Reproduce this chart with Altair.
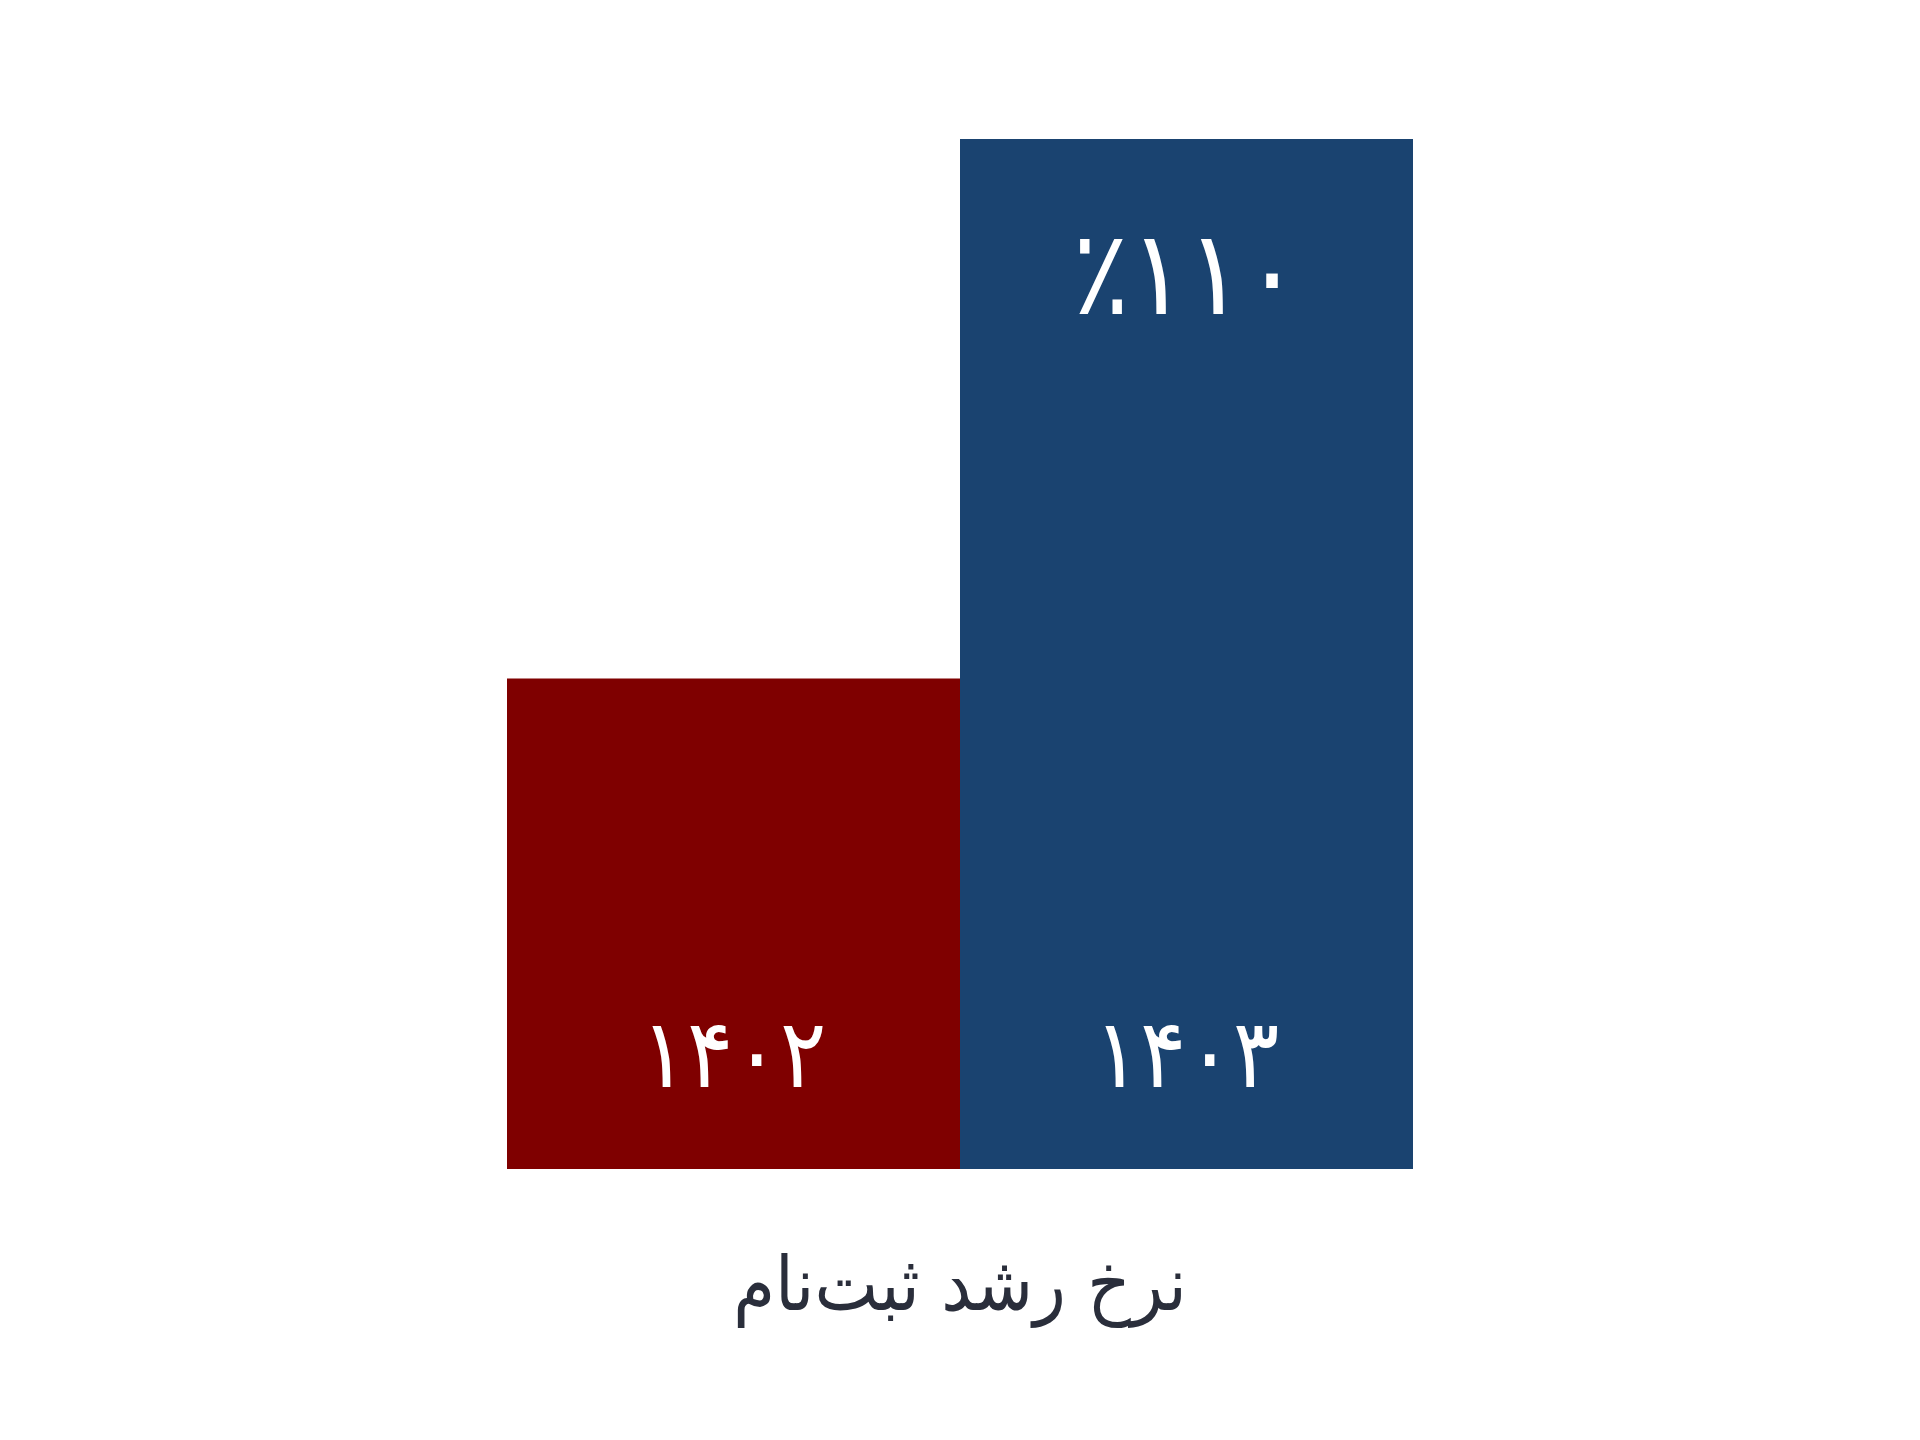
import pandas as pd
import altair as alt

years = ["۱۴۰۲", "۱۴۰۳"]
values = [100, 210]
bar_colors = ["#7f0000", "#1a4370"]
growth_year = "۱۴۰۳"
growth_label = "٪۱۱۰"
caption = "نرخ رشد ثبت‌نام"

df = pd.DataFrame({"year": years, "value": values})
df["label"] = ["", growth_label]

FONT = "DejaVu Sans Condensed"

base = alt.Chart(df).encode(
    x=alt.X("year:N", sort=years, axis=None,
            scale=alt.Scale(paddingInner=0, paddingOuter=0)),
)

bars = base.mark_bar().encode(
    y=alt.Y("value:Q", axis=None, scale=alt.Scale(domain=[0, 210], nice=False)),
    color=alt.Color("year:N", scale=alt.Scale(domain=years, range=bar_colors), legend=None),
)

year_text = base.mark_text(
    dy=-111, fontSize=96, color="white", font=FONT, baseline="middle"
).encode(
    y=alt.datum(0),
    text="year:N",
)

pct_text = base.mark_text(
    dy=140, fontSize=118, color="white", font=FONT, baseline="middle"
).transform_filter(
    alt.datum.year == growth_year
).encode(
    y="value:Q",
    text="label:N",
)

chart = alt.layer(bars, year_text, pct_text).properties(
    width=906,
    height=1030,
    autosize=alt.AutoSizeParams(type="none"),
    padding={"left": 499, "top": 131, "right": 499, "bottom": 263},
    background="white",
    title=alt.TitleParams(
        caption, orient="bottom", anchor="middle", offset=118,
        fontSize=75, font=FONT, fontWeight="normal", color="#2a2e3b",
        baseline="middle",
    ),
).configure_view(stroke=None)

chart.save("out.html", embed_options={"renderer": "svg", "actions": False})
